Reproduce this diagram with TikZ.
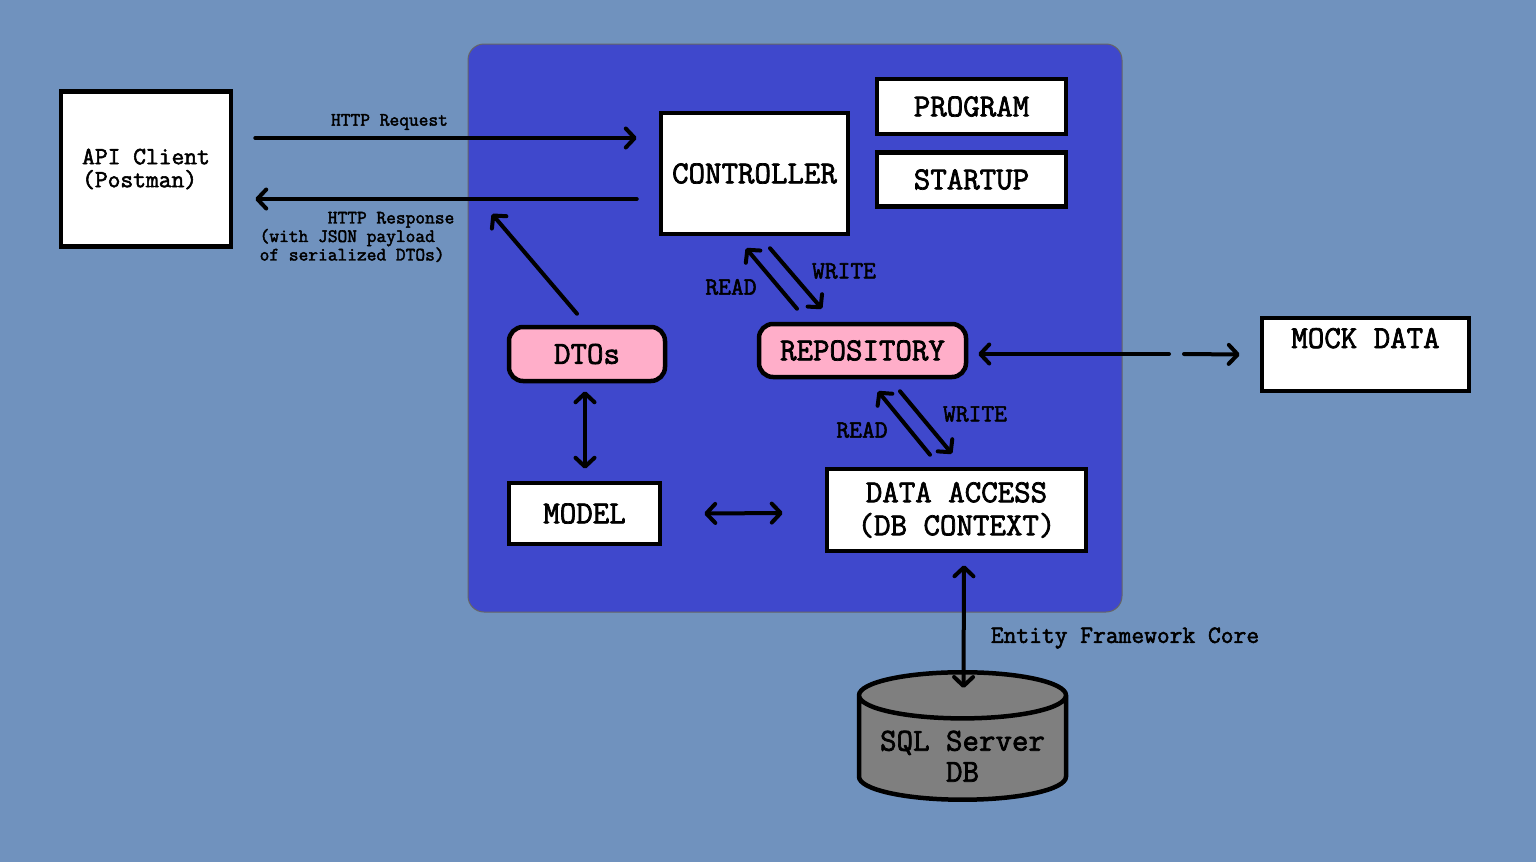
\documentclass[tikz,border=0pt]{standalone}
\usepackage{fontspec}
\setmonofont{Latin Modern Mono}[AutoFakeBold=2.2]
\usetikzlibrary{arrows.meta, shapes.geometric, positioning, calc}
\definecolor{bgblue}{RGB}{112,146,190}
\definecolor{appblue}{RGB}{63,72,204}
\definecolor{dtopink}{RGB}{255,174,201}
\definecolor{dbgray}{RGB}{127,127,127}
\newcommand{\lowline}[1]{\raisebox{-5pt}[\height][\depth]{#1}}

\begin{document}
\begin{tikzpicture}[x=1pt,y=-1pt,>={Straight Barb[round,length=9pt,width=19pt]},
    main node/.style={rectangle,draw,line width=4.5pt,fill=white,inner sep=0pt,align=center,font=\ttfamily\bfseries\fontsize{32}{33}\selectfont},
    pink node/.style={main node,fill=dtopink,rounded corners=14pt},
    mid text/.style={font=\ttfamily\bfseries\fontsize{24.8}{23}\selectfont},
    small text/.style={font=\ttfamily\bfseries\fontsize{18.9}{18.5}\selectfont},
    link/.style={line width=4pt,line cap=round}]
        \fill[bgblue] (0,0) rectangle (1536,862);
        \useasboundingbox (0,0) rectangle (1536,862);
        \draw[fill=appblue,draw=black!60,line width=1pt,rounded corners=16pt] (468,44) rectangle (1122,612);

        \node[main node,mid text,align=left,minimum width=170pt,minimum height=155pt] (1) at (146,169) {API Client\\(Postman)};
        \node[main node,minimum width=187pt,minimum height=121pt] (2) at (754.5,173.5) {CONTROLLER};
        \node[main node,minimum width=189pt,minimum height=55pt] (3) at (971.5,106.5) {PROGRAM};
        \node[main node,minimum width=189pt,minimum height=54pt] (4) [below=14pt of 3] {STARTUP};
        \node[pink node,minimum width=156pt,minimum height=54pt] (5) at (587,354) {DTOs};
        \node[pink node,minimum width=207pt,minimum height=53pt] (6) at (862.5,350.5) {REPOSITORY};
        \node[main node,minimum width=151pt,minimum height=61pt] (7) at (584.5,513.5) {MODEL};
        \node[main node,minimum width=259pt,minimum height=82pt] (8) at (956.5,510) {DATA ACCESS\\(DB CONTEXT)};
        \node[main node,minimum width=207pt,minimum height=73pt] (9) at (1365.5,354.5) {MOCK DATA\\\mbox{}};
        \node[main node,fill=dbgray,cylinder,shape border rotate=90,aspect=0.28,minimum width=207pt,minimum height=114pt,anchor=north,text height=56pt,font=\ttfamily\bfseries\fontsize{32}{31}\selectfont] (10) at (962.5,670) {\lowline{SQL Server}\\\lowline{DB}};

        \coordinate (r) at (492,214);
        \coordinate (g1) at (1169,354);
        \coordinate (g2) at (1184,354);

        \path[link]
        ($(1.east)+(22,-31)$) edge[->] ($(2.west)+(-22,-35.5)$)
        ($(2.west)+(-22,25.5)$) edge[->] ($(1.east)+(22,30)$)
        ($(5.north)+(-10,-11)$) edge[->] (r)
        ($(6.north)+(-65.5,-13)$) edge[->] ($(2.south)+(-8.5,12)$)
        ($(2.south)+(15.5,12)$) edge[->] ($(6.north)+(-40.5,-13)$)
        ($(8.north)+(-26.5,-12)$) edge[->] ($(6.south)+(15.5,12)$)
        ($(6.south)+(37.5,12)$) edge[->] ($(8.north)+(-4.5,-13)$)
        ($(5.south)+(-2,8)$) edge[<->] ($(7.north)+(0.5,-12)$)
        ($(7.east)+(42,0)$) edge[<->] ($(8.west)+(-42,3)$)
        ($(6.east)+(10,3.5)$) edge[<-] (g1)
        (g2) edge[->] ($(9.west)+(-20,0)$)
        ($(8.south)+(7.5,12)$) edge[<->] ($(10.north)+(1,18)$);

        \node[small text] at (389.5,122) {HTTP Request};
        \node[small text,align=left] at (357,237) {\hphantom{xxxxxxx}HTTP Response\\(with JSON payload\\of serialized DTOs)};
        \node[mid text] at (731,287) {READ};
        \node[mid text] at (844,271) {WRITE};
        \node[mid text] at (862,430) {READ};
        \node[mid text] at (975,414) {WRITE};
        \node[mid text] at (1125,638) {Entity Framework Core};
    \end{tikzpicture}
\end{document}
